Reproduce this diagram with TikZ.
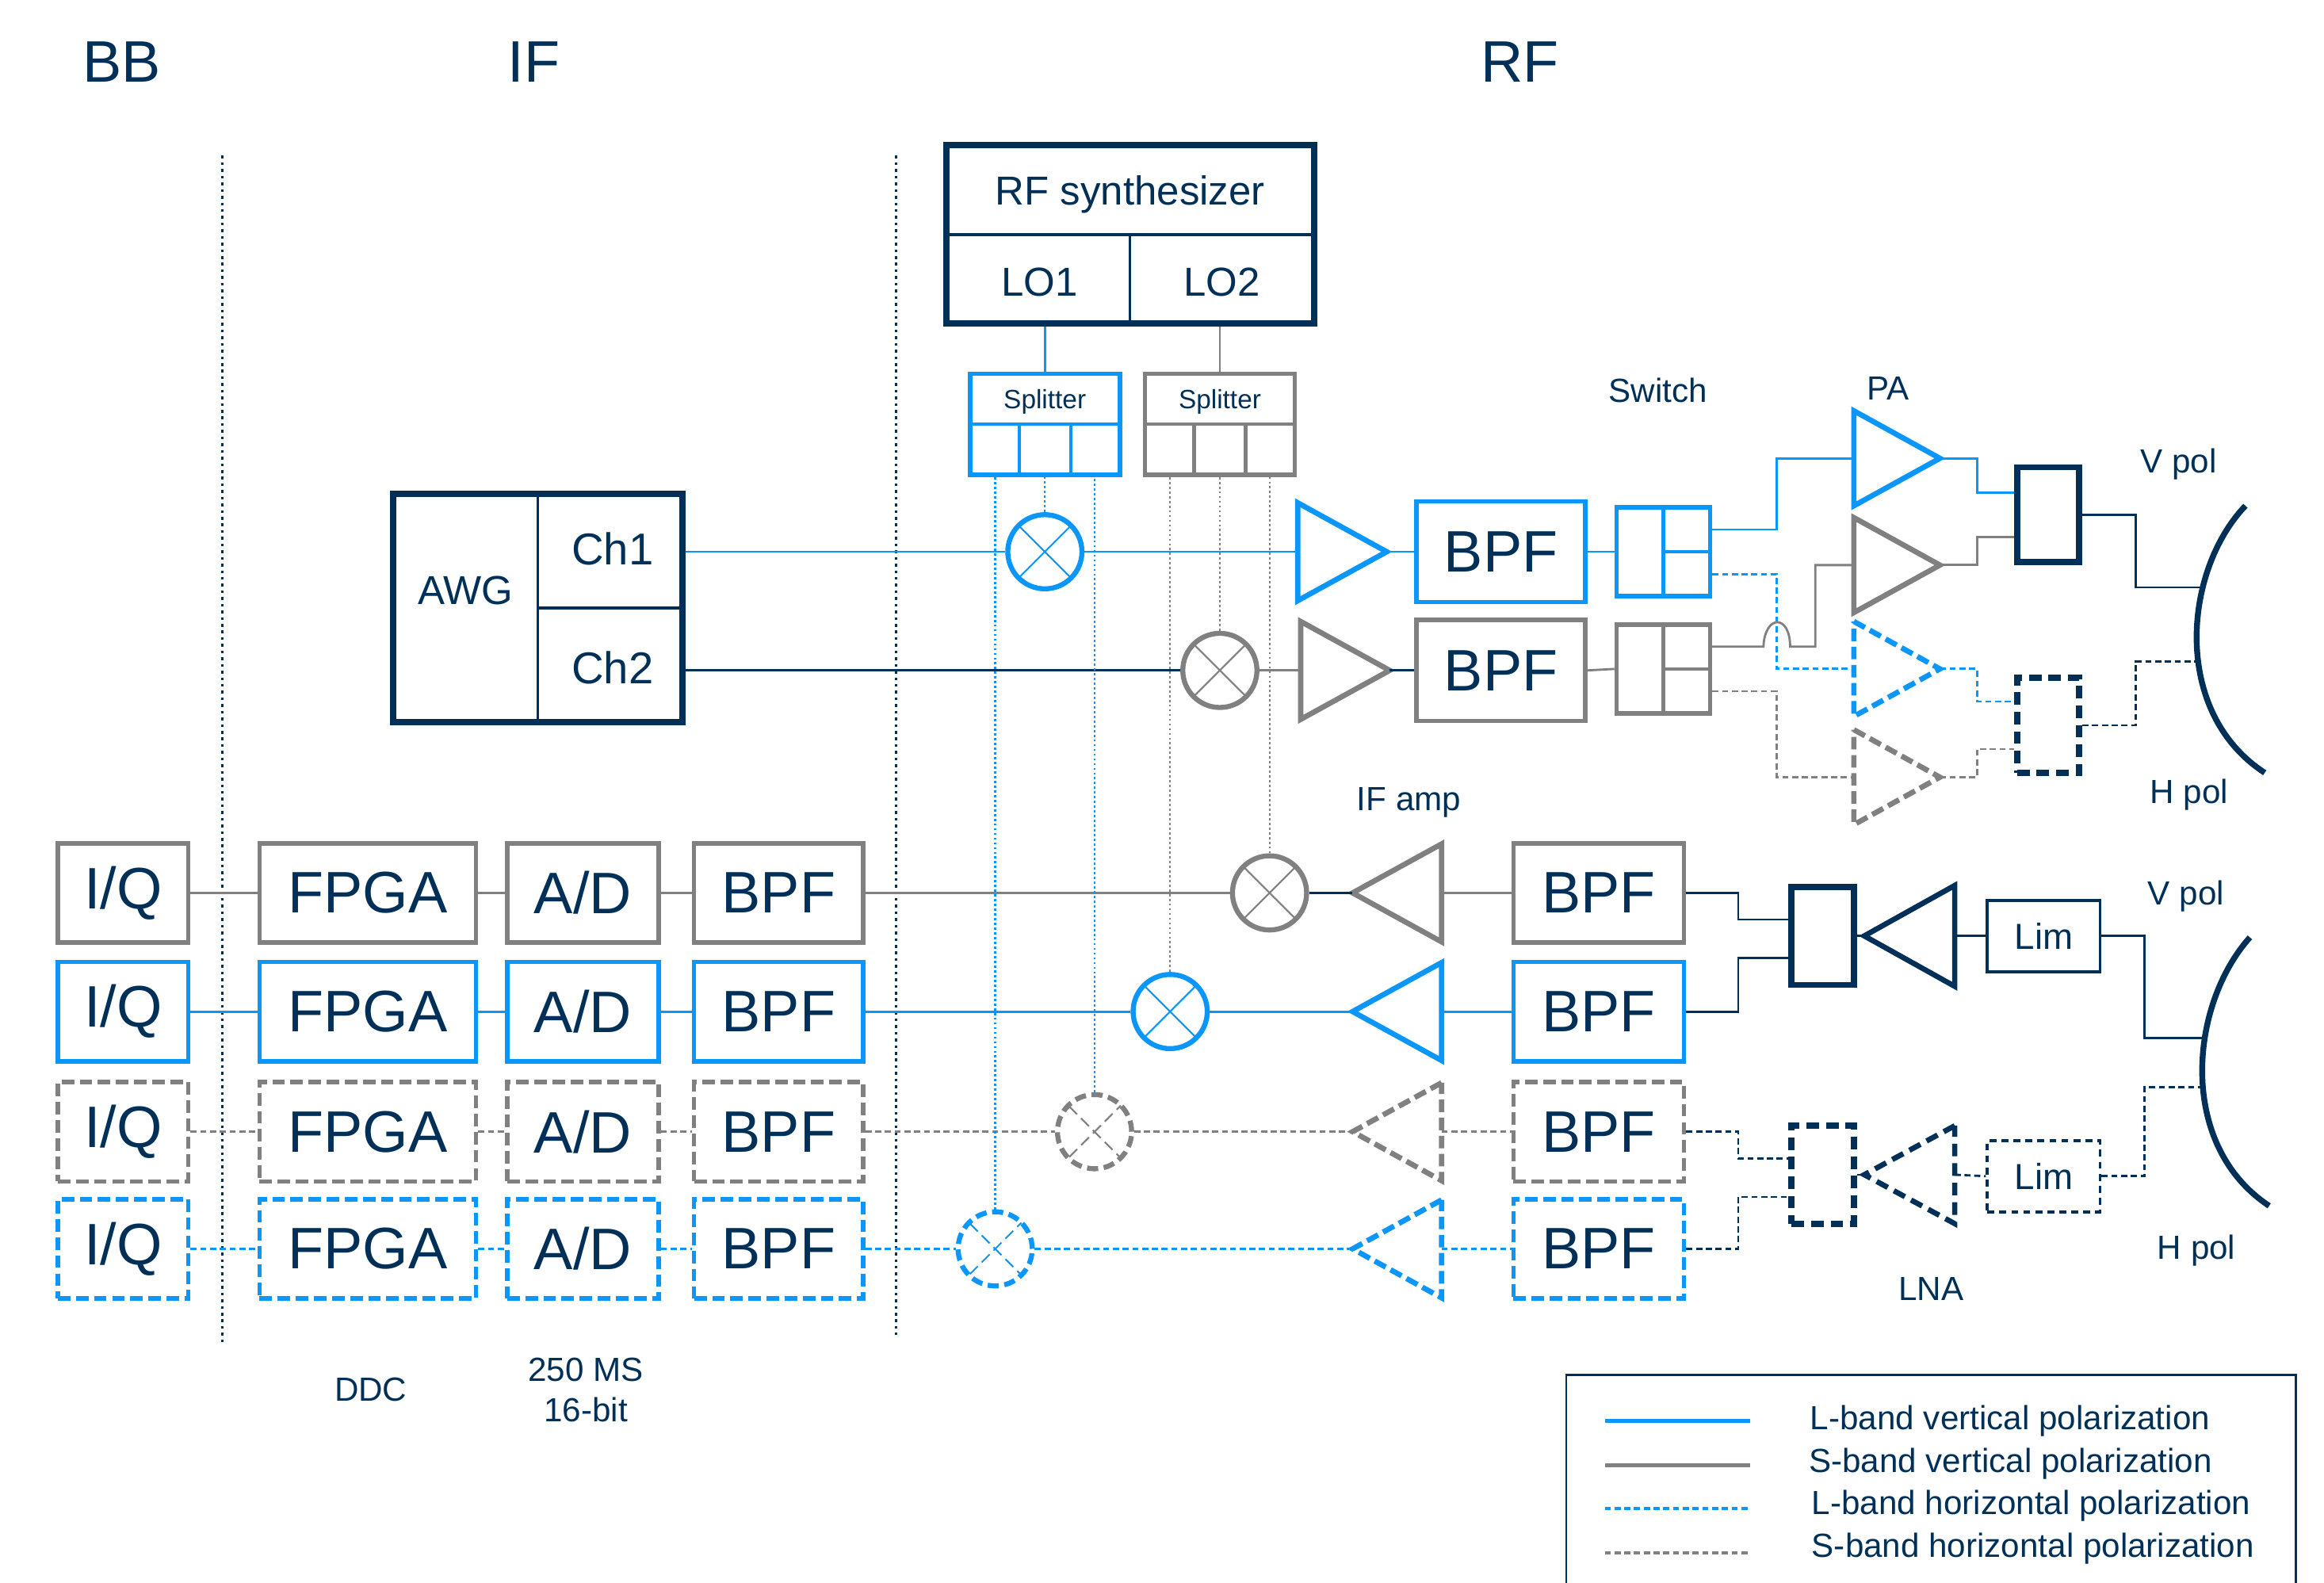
\documentclass[tikz,border=0pt]{standalone}
\usepackage{fontspec}
\setmainfont{Liberation Sans}
\usepackage{tikz}
\usetikzlibrary{calc}

\definecolor{navy}{RGB}{0,48,87}
\definecolor{lblue}{RGB}{10,150,250}
\definecolor{sgray}{RGB}{128,128,128}

% one unit of the picture
\newcommand{\ux}{0.01871cm}

% amplifier triangles: name, x, y, length, half height, style
\newcommand{\ampright}[6]{%
  \coordinate (#1-base) at (#2,#3);
  \coordinate (#1-tip) at (#2+#4,#3);
  \draw[#6] (#2,#3-#5) -- (#1-tip) -- (#2,#3+#5) -- cycle;
}
\newcommand{\ampleft}[6]{%
  \coordinate (#1-tip) at (#2,#3);
  \coordinate (#1-base) at (#2+#4,#3);
  \draw[#6] (#2+#4,#3-#5) -- (#1-tip) -- (#2+#4,#3+#5) -- cycle;
}

\tikzset{
  every node/.style={text=navy, font=\fontsize{21}{25}\selectfont},
  txtch/.style={font=\fontsize{16}{19}\selectfont},
  txtmid/.style={font=\fontsize{14.5}{17}\selectfont},
  txtlim/.style={font=\fontsize{13}{15}\selectfont},
  txtsmall/.style={font=\fontsize{12}{14.4}\selectfont},
  txttiny/.style={font=\fontsize{9.5}{11}\selectfont},
  blk/.style 2 args={rectangle, inner sep=0pt, minimum width=#1*\ux, minimum height=#2*\ux},
  % boxes
  lv box/.style={draw=lblue, line width=1.6pt},
  sv box/.style={draw=sgray, line width=1.6pt},
  lh box/.style={draw=lblue, line width=1.6pt, dash pattern=on 4.5pt off 2pt},
  sh box/.style={draw=sgray, line width=1.6pt, dash pattern=on 4.5pt off 2pt},
  nv box/.style={draw=navy, line width=2.2pt},
  nh box/.style={draw=navy, line width=2.2pt, dash pattern=on 4.5pt off 2.5pt},
  % lines
  lv line/.style={draw=lblue, line width=0.8pt},
  sv line/.style={draw=sgray, line width=0.8pt},
  lh line/.style={draw=lblue, line width=0.8pt, dash pattern=on 2.2pt off 1.3pt},
  sh line/.style={draw=sgray, line width=0.8pt, dash pattern=on 2.2pt off 1.3pt},
  nv line/.style={draw=navy, line width=0.8pt},
  nh line/.style={draw=navy, line width=0.8pt, dash pattern=on 2.2pt off 1.3pt},
  lo line/.style={draw=#1, line width=0.6pt, dash pattern=on 0.8pt off 0.9pt},
  divider/.style={draw=navy, line width=0.8pt, dash pattern=on 1pt off 1.4pt},
  dish/.style={draw=navy, line width=2.1pt},
  mixer/.style 2 args={circle, inner sep=0pt, minimum size=50*\ux, line width=1.8pt, draw=#1, #2,
    path picture={\draw[#1, #2, line width=0.6pt]
      (path picture bounding box.south west) -- (path picture bounding box.north east)
      (path picture bounding box.north west) -- (path picture bounding box.south east);}},
}

\begin{document}
\begin{tikzpicture}[x=0.01871cm, y=-0.01871cm]
  \useasboundingbox (0,0) rectangle (1567,1067);

  % headers
  \node (bb) at (82,42) {BB};
  \node (if) at (360,42) {IF};
  \node (rf) at (1025,42) {RF};
  \draw[divider] (150,105) -- (150,905);
  \draw[divider] (604,105) -- (604,900);

  % RF synthesizer
  \node[blk={248}{120}, nv box] (synth) at (762,158) {};
  \draw[nv line, line width=1.2pt] (synth.west) -- (synth.east);
  \draw[nv line] (synth.center) -- (synth.south);
  \node[txtmid] (rfs) at (762,131) {RF synthesizer};
  \node[txtmid] (lo1) at (701,190) {LO1};
  \node[txtmid] (lo2) at (824,190) {LO2};

  % splitters
  \node[blk={101}{68}, lv box] (spl1) at (704.5,286) {};
  \node[blk={101}{68}, sv box] (spl2) at (822.5,286) {};
  \draw[lv box, line width=1.2pt] (spl1.west) -- (spl1.east)
    ($(spl1.west)!1/3!(spl1.east)$) -- ($(spl1.south west)!1/3!(spl1.south east)$)
    ($(spl1.west)!2/3!(spl1.east)$) -- ($(spl1.south west)!2/3!(spl1.south east)$);
  \draw[sv box, line width=1.2pt] (spl2.west) -- (spl2.east)
    ($(spl2.west)!1/3!(spl2.east)$) -- ($(spl2.south west)!1/3!(spl2.south east)$)
    ($(spl2.west)!2/3!(spl2.east)$) -- ($(spl2.south west)!2/3!(spl2.south east)$);
  \node[txttiny] (spl1l) at (704.5,271) {Splitter};
  \node[txttiny] (spl2l) at (822.5,271) {Splitter};
  \draw[lv line] (spl1.north) -- (spl1.north |- synth.south);
  \draw[sv line] (spl2.north) -- (spl2.north |- synth.south);

  % AWG
  \node[blk={195}{154}, nv box] (awg) at (362.5,410) {};
  \draw[nv line] (awg.north) -- (awg.south);
  \draw[nv line, line width=1.2pt] (awg.center) -- (awg.east);
  \node[txtmid] (awgl) at (314,398) {AWG};
  \node[txtch] (ch1) at (413,370) {Ch1};
  \node[txtch] (ch2) at (413,450) {Ch2};

  % transmit chain
  \node[mixer={lblue}{solid}] (mx1) at (704.5,372) {};
  \node[mixer={sgray}{solid}] (mx2) at (822.5,452) {};
  \ampright{amp1}{875}{372}{60}{33}{lv box, line width=1.9pt}
  \ampright{amp2}{877}{452}{60}{33}{sv box, line width=1.9pt}
  \node[blk={114}{68}, lv box] (bpf1) at (1012,372) {BPF};
  \node[blk={114}{68}, sv box] (bpf2) at (1012,452) {BPF};
  \node[blk={63}{60}, lv box] (sw1) at (1121.5,372) {};
  \node[blk={63}{60}, sv box] (sw2) at (1121.5,451) {};
  \draw[lv box, line width=1.2pt] (sw1.north) -- (sw1.south) (sw1.center) -- (sw1.east);
  \draw[sv box, line width=1.2pt] (sw2.north) -- (sw2.south) (sw2.center) -- (sw2.east);
  \ampright{pa1}{1250}{309}{58}{32}{lv box, line width=1.9pt}
  \ampright{pa2}{1250}{381}{58}{32}{sv box, line width=1.9pt}
  \ampright{pa3}{1250}{451}{58}{32}{lh box, line width=1.9pt}
  \ampright{pa4}{1250}{524}{58}{32}{sh box, line width=1.9pt}
  \node[blk={42}{64}, nv box] (cb1) at (1381,347) {};
  \node[blk={42}{64}, nh box] (cb2) at (1381,489) {};
  \coordinate (d1v) at (1485,396);
  \coordinate (d1h) at (1482,446);
  \draw[dish] (1514,341) .. controls (1472,385) and (1464,480) .. (1527,521);

  \draw[lv line] (mx1.west -| awg.east) -- (mx1.west);
  \draw[nv line] (mx2.west -| awg.east) -- (mx2.west);
  \draw[lo line=lblue] (mx1.north) -- (mx1.north |- spl1.south);
  \draw[lo line=sgray] (mx2.north) -- (mx2.north |- spl2.south);
  \draw[lv line] (mx1.east) -- (amp1-base);
  \draw[sv line] (mx2.east) -- (amp2-base);
  \draw[lv line] (amp1-tip) -- (bpf1.west);
  \draw[nv line] (amp2-tip) -- (bpf2.west);
  \draw[lv line] (bpf1.east) -- (sw1.west);
  \draw[sv line] (bpf2.east) -- (sw2.west);
  \draw[lv line] ([yshift=15*\ux]sw1.east) -| (1198,309) -- (pa1-base);
  \draw[lh line] ([yshift=-15*\ux]sw1.east) -| (1198,451) -- (pa3-base);
  \draw[sv line] ([yshift=15*\ux]sw2.east) -- (1189,436)
    .. controls (1190,414) and (1207,414) .. (1207,436) -| (1224,381) -- (pa2-base);
  \draw[sh line] ([yshift=-15*\ux]sw2.east) -| (1198,524) -- (pa4-base);
  \draw[lv line] (pa1-tip) -| (1333,332) -- ([yshift=15*\ux]cb1.west);
  \draw[sv line] (pa2-tip) -| (1333,362) -- ([yshift=-15*\ux]cb1.west);
  \draw[lh line] (pa3-tip) -| (1333,473) -- ([yshift=16*\ux]cb2.west);
  \draw[sh line] (pa4-tip) -| (1333,505) -- ([yshift=-16*\ux]cb2.west);
  \draw[nv line] (cb1.east) -| (1440,396) -- (d1v);
  \draw[nh line] (cb2.east) -| (1440,446) -- (d1h);

  % receive rows
  \node[blk={88}{67}, sv box] (iq1) at (83,602) {I/Q};
  \node[blk={146}{67}, sv box] (fpga1) at (248,602) {FPGA};
  \node[blk={102}{67}, sv box] (ad1) at (393,602) {A/D};
  \node[blk={114}{67}, sv box] (bpf5) at (525,602) {BPF};
  \node[mixer={sgray}{solid}] (mx3) at (856,602) {};
  \ampleft{ifa1}{912}{602}{60}{33}{sv box, line width=1.9pt}
  \node[blk={115}{67}, sv box] (bpf9) at (1078,602) {BPF};

  \node[blk={88}{67}, lv box] (iq2) at (83,682) {I/Q};
  \node[blk={146}{67}, lv box] (fpga2) at (248,682) {FPGA};
  \node[blk={102}{67}, lv box] (ad2) at (393,682) {A/D};
  \node[blk={114}{67}, lv box] (bpf6) at (525,682) {BPF};
  \node[mixer={lblue}{solid}] (mx4) at (789,682) {};
  \ampleft{ifa2}{912}{682}{60}{33}{lv box, line width=1.9pt}
  \node[blk={115}{67}, lv box] (bpf10) at (1078,682) {BPF};

  \node[blk={88}{67}, sh box] (iq3) at (83,763) {I/Q};
  \node[blk={146}{67}, sh box] (fpga3) at (248,763) {FPGA};
  \node[blk={102}{67}, sh box] (ad3) at (393,763) {A/D};
  \node[blk={114}{67}, sh box] (bpf7) at (525,763) {BPF};
  \node[mixer={sgray}{dash pattern=on 4pt off 2pt}] (mx5) at (738,763) {};
  \ampleft{ifa3}{912}{763}{60}{33}{sh box, line width=1.9pt}
  \node[blk={115}{67}, sh box] (bpf11) at (1078,763) {BPF};

  \node[blk={88}{67}, lh box] (iq4) at (83,842) {I/Q};
  \node[blk={146}{67}, lh box] (fpga4) at (248,842) {FPGA};
  \node[blk={102}{67}, lh box] (ad4) at (393,842) {A/D};
  \node[blk={114}{67}, lh box] (bpf8) at (525,842) {BPF};
  \node[mixer={lblue}{dash pattern=on 4pt off 2pt}] (mx6) at (671,842) {};
  \ampleft{ifa4}{912}{842}{60}{33}{lh box, line width=1.9pt}
  \node[blk={115}{67}, lh box] (bpf12) at (1078,842) {BPF};

  \draw[sv line] (iq1) -- (fpga1) -- (ad1) -- (bpf5) -- (mx3);
  \draw[nv line] (mx3) -- (ifa1-tip);
  \draw[sv line] (ifa1-base) -- (bpf9);
  \draw[lv line] (iq2) -- (fpga2) -- (ad2) -- (bpf6) -- (mx4) -- (ifa2-tip);
  \draw[lv line] (ifa2-base) -- (bpf10);
  \draw[sh line] (iq3) -- (fpga3) -- (ad3) -- (bpf7) -- (mx5) -- (ifa3-tip);
  \draw[sh line] (ifa3-base) -- (bpf11);
  \draw[lh line] (iq4) -- (fpga4) -- (ad4) -- (bpf8) -- (mx6) -- (ifa4-tip);
  \draw[lh line] (ifa4-base) -- (bpf12);
  \draw[lo line=sgray] (mx3.north) -- (mx3.north |- spl2.south);
  \draw[lo line=sgray] (mx4.north) -- (mx4.north |- spl2.south);
  \draw[lo line=lblue] (mx5.north) -- (mx5.north |- spl1.south);
  \draw[lo line=lblue] (mx6.north) -- (mx6.north |- spl1.south);

  % front end
  \node[blk={42}{66}, nv box] (cb3) at (1229,631) {};
  \node[blk={42}{66}, nh box] (cb4) at (1229,792) {};
  \ampleft{lna1}{1257}{631}{61}{34}{nv box, line width=1.9pt}
  \ampleft{lna2}{1257}{792}{61}{33}{nh box, line width=1.9pt}
  \node[blk={76}{48}, nv box, line width=1.1pt, txtlim] (lim1) at (1378,631) {Lim};
  \node[blk={76}{48}, nh box, line width=1.1pt, dash pattern=on 2.5pt off 1.8pt, txtlim] (lim2) at (1378,793) {Lim};
  \coordinate (d2v) at (1487,700);
  \coordinate (d2h) at (1485,733);
  \draw[dish] (1517,632) .. controls (1476,678) and (1468,772) .. (1530,813);

  \draw[nv line] (bpf9.east) -| (1172,620) -- ([yshift=11*\ux]cb3.west);
  \draw[nv line] (bpf10.east) -| (1172,646) -- ([yshift=-15*\ux]cb3.west);
  \draw[nh line] (bpf11.east) -| (1172,781) -- ([yshift=11*\ux]cb4.west);
  \draw[nh line] (bpf12.east) -| (1172,807) -- ([yshift=-15*\ux]cb4.west);
  \draw[nv line] (cb3.east) -- (lna1-tip);
  \draw[nv line] (lna1-base) -- (lim1.west);
  \draw[nh line] (cb4.east) -- (lna2-tip);
  \draw[nh line] (lna2-base) -- (lim2.west);
  \draw[nv line] (lim1.east) -| (1446,700) -- (d2v);
  \draw[nh line] (lim2.east) -| (1446,733) -- (d2h);

  % labels
  \node[txtsmall] (swl) at (1118,263) {Switch};
  \node[txtsmall] (pal) at (1273,262) {PA};
  \node[txtsmall] (vpol1) at (1469,313) {V pol};
  \node[txtsmall] (hpol1) at (1476,536) {H pol};
  \node[txtsmall] (ifl) at (950,541) {IF amp};
  \node[txtsmall] (vpol2) at (1474,604) {V pol};
  \node[txtsmall] (hpol2) at (1481,843) {H pol};
  \node[txtsmall] (lnal) at (1302,869) {LNA};
  \node[txtsmall] (ddc) at (250,937) {DDC};
  \node[txtsmall, align=center] (adc) at (395,937) {250 MS\\16-bit};

  % legend
  \draw[navy, line width=0.6pt] (1056,1075) |- (1548,927) -- (1548,1075);
  \coordinate (lg1a) at (1082,958); \coordinate (lg1b) at (1180,958);
  \coordinate (lg2a) at (1082,988); \coordinate (lg2b) at (1180,988);
  \coordinate (lg3a) at (1082,1017); \coordinate (lg3b) at (1180,1017);
  \coordinate (lg4a) at (1082,1047); \coordinate (lg4b) at (1180,1047);
  \draw[lv line, line width=1.3pt] (lg1a) -- (lg1b);
  \draw[sv line, line width=1.3pt] (lg2a) -- (lg2b);
  \draw[lh line, line width=1.3pt] (lg3a) -- (lg3b);
  \draw[sh line, line width=1.3pt] (lg4a) -- (lg4b);
  \node[txtsmall, anchor=west] (lg1) at (1214,958) {L-band vertical polarization};
  \node[txtsmall, anchor=west] (lg2) at (1213,987) {S-band vertical polarization};
  \node[txtsmall, anchor=west] (lg3) at (1215,1015) {L-band horizontal polarization};
  \node[txtsmall, anchor=west] (lg4) at (1215,1044) {S-band horizontal polarization};
\end{tikzpicture}
\end{document}
